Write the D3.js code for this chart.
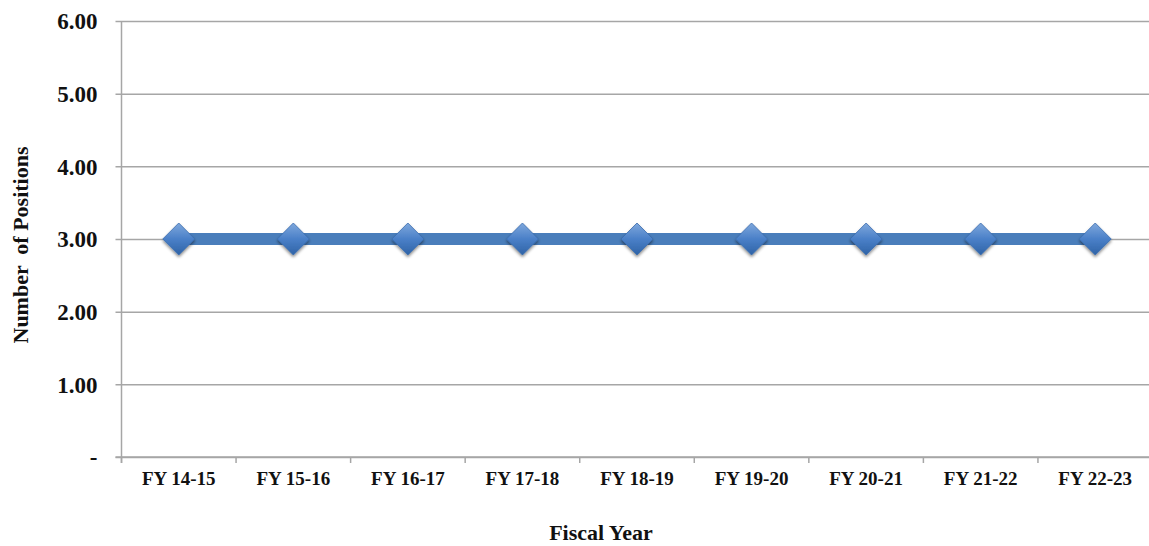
<!DOCTYPE html>
<html>
<head>
<meta charset="utf-8">
<script src="https://cdn.jsdelivr.net/npm/d3@7"></script>
<style>
  html, body { margin: 0; padding: 0; background: #fff; }
  svg { display: block; }
  text { font-family: "Liberation Serif", "Times New Roman", serif; font-weight: bold; fill: #111; }
</style>
</head>
<body>
<svg id="chart" width="1149" height="546"></svg>
<script>
// Staffing levels by fiscal year
const fiscalYears = ["FY 14-15", "FY 15-16", "FY 16-17", "FY 17-18", "FY 18-19", "FY 19-20", "FY 20-21", "FY 21-22", "FY 22-23"];
const positions = [3, 3, 3, 3, 3, 3, 3, 3, 3];
const yTicks = [0, 1, 2, 3, 4, 5, 6];
const yTickLabels = ["-", "1.00", "2.00", "3.00", "4.00", "5.00", "6.00"];

const svg = d3.select("#chart");
const margin = { left: 121.5, right: 1152.5, top: 21, bottom: 457 };

const x = d3.scaleBand().domain(fiscalYears).range([margin.left, margin.right]);
const y = d3.scaleLinear().domain([0, 6]).range([margin.bottom, margin.top]);

const defs = svg.append("defs");
const grad = defs.append("linearGradient").attr("id", "diamondFill")
  .attr("x1", "0").attr("y1", "0").attr("x2", "0").attr("y2", "1");
grad.append("stop").attr("offset", "0%").attr("stop-color", "#7fa8dc");
grad.append("stop").attr("offset", "50%").attr("stop-color", "#4a80c8");
grad.append("stop").attr("offset", "100%").attr("stop-color", "#2f63a6");
const shadow = defs.append("filter").attr("id", "markerShadow")
  .attr("x", "-50%").attr("y", "-50%").attr("width", "200%").attr("height", "200%");
shadow.append("feDropShadow").attr("dx", 0).attr("dy", 2).attr("stdDeviation", 1.6)
  .attr("flood-color", "#000").attr("flood-opacity", 0.45);

// Horizontal gridlines with small outward ticks on the value axis
const yAxis = d3.axisLeft(y).tickValues(yTicks)
  .tickSize(-(margin.right - margin.left) - 6)
  .tickFormat((d, i) => yTickLabels[i]);
const gy = svg.append("g").attr("transform", `translate(${margin.left},0)`).call(yAxis);
gy.attr("font-family", null).attr("font-size", null);
gy.select(".domain").remove();
gy.selectAll(".tick line").attr("x1", -6).attr("x2", margin.right - margin.left)
  .attr("stroke", "#a6a6a6").attr("stroke-width", 1.5);
gy.selectAll(".tick text").attr("x", -24).attr("dy", "0.34em")
  .style("font-size", "23px").style("font-family", "'Liberation Serif', serif").style("font-weight", "bold")
  .attr("fill", "#111");

// Vertical value axis line
svg.append("line")
  .attr("x1", margin.left).attr("x2", margin.left)
  .attr("y1", margin.top).attr("y2", margin.bottom + 6)
  .attr("stroke", "#a6a6a6").attr("stroke-width", 1.5);

// Category axis with ticks at band boundaries
const gx = svg.append("g").attr("transform", `translate(0,${margin.bottom})`);
gx.append("line").attr("x1", margin.left - 6).attr("x2", margin.right)
  .attr("stroke", "#a6a6a6").attr("stroke-width", 1.5);
gx.selectAll("line.tick").data(fiscalYears).enter().append("line")
  .attr("class", "tick")
  .attr("x1", d => x(d)).attr("x2", d => x(d))
  .attr("y1", 0).attr("y2", 6)
  .attr("stroke", "#a6a6a6").attr("stroke-width", 1.5);
gx.selectAll("text").data(fiscalYears).enter().append("text")
  .attr("x", d => x(d) + x.bandwidth() / 2)
  .attr("y", 28)
  .attr("text-anchor", "middle")
  .style("font-size", "19px")
  .text(d => d);

// Series line
const line = d3.line()
  .x((d, i) => x(fiscalYears[i]) + x.bandwidth() / 2)
  .y(d => y(d));
svg.append("path").datum(positions)
  .attr("d", line)
  .attr("fill", "none")
  .attr("stroke", "#4a7ebb")
  .attr("stroke-width", 12);

// Diamond markers
const r = 16;
svg.append("g").selectAll("path").data(positions).enter().append("path")
  .attr("transform", (d, i) => `translate(${x(fiscalYears[i]) + x.bandwidth() / 2},${y(d)})`)
  .attr("d", `M0,${-r}L${r},0L0,${r}L${-r},0Z`)
  .attr("fill", "url(#diamondFill)")
  .attr("stroke", "#3a6cae")
  .attr("stroke-width", 0.8)
  .attr("filter", "url(#markerShadow)");

// Axis titles
svg.append("text")
  .attr("x", 601)
  .attr("y", 540)
  .attr("text-anchor", "middle")
  .style("font-size", "22px")
  .text("Fiscal Year");

svg.append("text")
  .attr("transform", "translate(28,245) rotate(-90)")
  .attr("text-anchor", "middle")
  .style("font-size", "22px")
  .attr("xml:space", "preserve")
  .text("Number  of Positions");
</script>
</body>
</html>
